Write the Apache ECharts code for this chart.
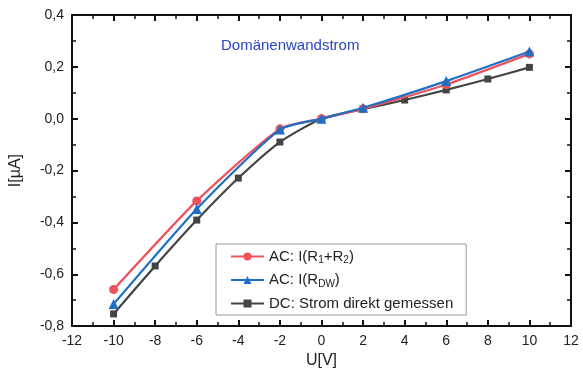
<!DOCTYPE html>
<html><head><meta charset="utf-8">
<script src="https://cdn.jsdelivr.net/npm/echarts@6/dist/echarts.min.js"></script>
<style>html,body{margin:0;padding:0;background:#fff}#c{width:583px;height:374px}</style>
</head><body><div id="c"></div>
<script>
const xAC = [-10, -6, -2, 0, 2, 6, 10];
const yR1R2 = [-0.659, -0.317, -0.039, 0.0, 0.038, 0.132, 0.25];
const yRDW = [-0.715, -0.348, -0.042, 0.0, 0.042, 0.145, 0.259];
const xDC = [-10, -8, -6, -4, -2, 0, 2, 4, 6, 8, 10];
const yDC = [-0.753, -0.568, -0.391, -0.229, -0.09, 0.0, 0.037, 0.072, 0.111, 0.153, 0.198];
const names = ['AC: I(R1+R2)', 'AC: I(RDW)', 'DC: Strom direkt gemessen'];
const colors = ['#f0525c', '#1f6fc5', '#444444'];

const pair = (xs, ys) => xs.map((x, i) => [x, ys[i]]);
const chart = echarts.init(document.getElementById('c'));
const font = 'Liberation Sans, Arial, sans-serif';
const axisCommon = {
  axisLine: {show: true, onZero: false, lineStyle: {color: '#111', width: 2}},
  axisTick: {show: true, inside: true, length: 6, lineStyle: {color: '#111', width: 2}},
  minorTick: {show: true, splitNumber: 2, length: 4, lineStyle: {color: '#111', width: 1.5}},
  splitLine: {show: false}
};
chart.setOption({
  animation: false,
  textStyle: {fontFamily: font},
  grid: {left: 67, right: 12, top: 15, bottom: 38},
  title: {text: 'Domänenwandstrom', left: 216, top: 33,
    textStyle: {color: '#2a46c0', fontSize: 15, fontWeight: 'normal', fontFamily: font}},
  legend: {
    orient: 'vertical', left: 216, top: 244, padding: [5, 13, 4, 14],
    borderColor: '#999', borderWidth: 1, itemWidth: 33, itemHeight: 10, itemGap: 7,
    data: names,
    textStyle: {fontFamily: font, fontSize: 15, color: '#222',
      rich: {a: {fontSize: 15, color: '#222', fontFamily: font},
             s: {fontSize: 10, color: '#222', fontFamily: font, padding: [8, 0, 0, 0]}}},
    formatter: function (n) {
      if (n === names[0]) return '{a|AC: I(R}{s|1}{a|+R}{s|2}{a|)}';
      if (n === names[1]) return '{a|AC: I(R}{s|DW}{a|)}';
      return '{a|' + n + '}';
    }
  },
  xAxis: [
    Object.assign({type: 'value', min: -12, max: 12, interval: 2, position: 'bottom',
      name: 'U[V]', nameLocation: 'middle', nameGap: 23,
      nameTextStyle: {fontSize: 16, color: '#222', fontFamily: font},
      axisLabel: {fontSize: 14, color: '#222', margin: 8, fontFamily: font}}, axisCommon),
    Object.assign({type: 'value', min: -12, max: 12, interval: 2, position: 'top',
      axisLabel: {show: false}}, axisCommon)
  ],
  yAxis: [
    Object.assign({type: 'value', min: -0.8, max: 0.4, interval: 0.2, position: 'left',
      name: 'I[µA]', nameLocation: 'middle', nameGap: 48, nameRotate: 90,
      nameTextStyle: {fontSize: 16, color: '#222', fontFamily: font},
      axisLabel: {fontSize: 14, color: '#222', margin: 8, fontFamily: font,
        formatter: v => v.toFixed(1).replace('.', ',')}}, axisCommon),
    Object.assign({type: 'value', min: -0.8, max: 0.4, interval: 0.2, position: 'right',
      axisLabel: {show: false}}, axisCommon)
  ],
  series: [
    {name: names[0], type: 'line', data: pair(xAC, yR1R2), smooth: 0.2,
     symbol: 'circle', symbolSize: 9, itemStyle: {color: colors[0]},
     lineStyle: {color: colors[0], width: 2.2}, z: 3},
    {name: names[1], type: 'line', data: pair(xAC, yRDW), smooth: 0.2,
     symbol: 'triangle', symbolSize: 10, itemStyle: {color: colors[1]},
     lineStyle: {color: colors[1], width: 2.2}, z: 4},
    {name: names[2], type: 'line', data: pair(xDC, yDC), smooth: 0.2,
     symbol: 'rect', symbolSize: 7, itemStyle: {color: colors[2]},
     lineStyle: {color: colors[2], width: 2.2}, z: 2}
  ]
});
</script></body></html>
